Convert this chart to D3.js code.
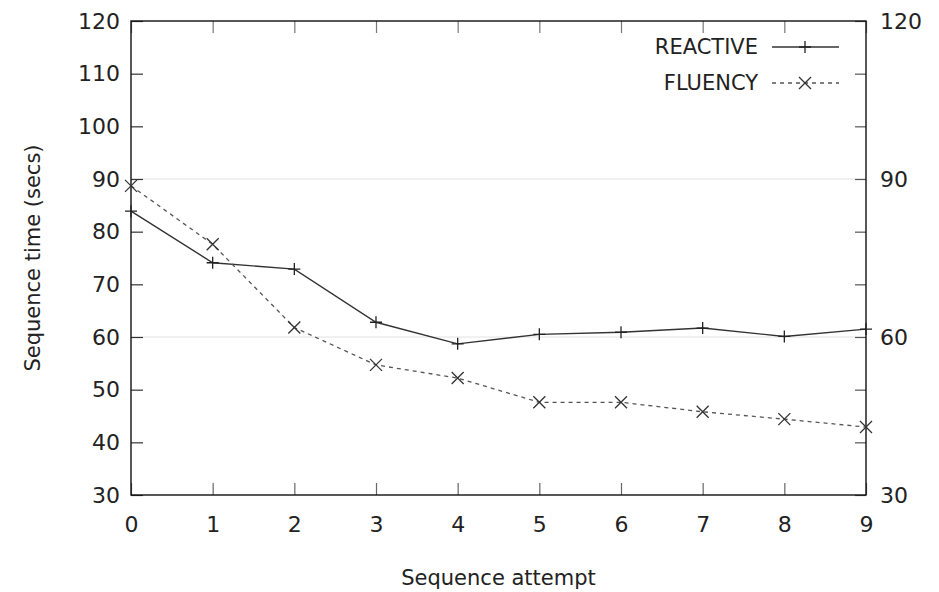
<!DOCTYPE html>
<html lang="en">
<head>
<meta charset="UTF-8" />
<title>Sequence time</title>
<style>
  body { margin: 0; background: #fff; }
  text { font-family: "DejaVu Sans", sans-serif; fill: #222; }
</style>
</head>
<body>
<script src="https://cdn.jsdelivr.net/npm/d3@7"></script>
<script>
// data
var attempts = [0, 1, 2, 3, 4, 5, 6, 7, 8, 9];
var reactive = [83.9, 74.1, 72.9, 62.8, 58.7, 60.5, 60.9, 61.7, 60.1, 61.5];
var fluency  = [88.7, 77.6, 61.8, 54.7, 52.2, 47.6, 47.6, 45.8, 44.4, 42.9];
var leftTicks = [30, 40, 50, 60, 70, 80, 90, 100, 110, 120];
var rightTicks = [30, 60, 90, 120];

var w = 939, h = 592;
var pLeft = 131, pRight = 866, pTop = 21, pBottom = 495;

var svg = d3.select("body").append("svg")
  .attr("width", w)
  .attr("height", h);

var xScale = d3.scaleLinear().domain([0, 9]).range([pLeft, pRight]);
var yScale = d3.scaleLinear().domain([30, 120]).range([pBottom, pTop]);

// light grid at right-axis majors
svg.selectAll("line.grid")
  .data(rightTicks.filter(function(d) { return d > 30 && d < 120; }))
  .enter().append("line")
  .attr("class", "grid")
  .attr("x1", pLeft).attr("x2", pRight)
  .attr("y1", function(d) { return yScale(d); })
  .attr("y2", function(d) { return yScale(d); })
  .attr("stroke", "#e2e2e2")
  .attr("stroke-width", 1);

// axes with inward ticks
var yLeft = d3.axisLeft(yScale).tickValues(leftTicks).tickSizeInner(-12).tickSizeOuter(0).tickPadding(11);
var yRight = d3.axisRight(yScale).tickValues(leftTicks).tickSizeInner(-11).tickSizeOuter(0)
  .tickFormat(function(d) { return rightTicks.indexOf(d) >= 0 ? d : ""; }).tickPadding(14);
var xBottom = d3.axisBottom(xScale).tickValues(attempts).tickSizeInner(-12).tickSizeOuter(0).tickPadding(21);
var xTop = d3.axisTop(xScale).tickValues(attempts).tickSizeInner(-12).tickSizeOuter(0).tickFormat("");

function style(g, col) {
  g.select(".domain").remove();
  g.selectAll(".tick line").attr("stroke", col).attr("stroke-width", 1.2);
  g.selectAll(".tick text").style("font-size", "22px").attr("fill", "#222");
}

svg.append("g").attr("transform", "translate(" + pLeft + ",0)").call(yLeft).call(style, "#333");
svg.append("g").attr("transform", "translate(" + pRight + ",0)").call(yRight).call(style, "#555");
svg.append("g").attr("transform", "translate(0," + pBottom + ")").call(xBottom).call(style, "#666");
svg.append("g").attr("transform", "translate(0," + pTop + ")").call(xTop).call(style, "#777");

// frame
svg.append("rect")
  .attr("x", pLeft).attr("y", pTop)
  .attr("width", pRight - pLeft).attr("height", pBottom - pTop)
  .attr("fill", "none")
  .attr("stroke", "#111")
  .attr("stroke-width", 1.4);

var line = d3.line()
  .x(function(d, i) { return xScale(attempts[i]); })
  .y(function(d) { return yScale(d); });

svg.append("path")
  .datum(reactive)
  .attr("d", line)
  .attr("fill", "none")
  .attr("stroke", "#333")
  .attr("stroke-width", 1.4);

svg.append("path")
  .datum(fluency)
  .attr("d", line)
  .attr("fill", "none")
  .attr("stroke", "#555")
  .attr("stroke-width", 1.3)
  .attr("stroke-dasharray", "4,4");

function plus(g, x, y) {
  g.append("path")
    .attr("d", "M" + (x - 6) + "," + y + "H" + (x + 6) + "M" + x + "," + (y - 6) + "V" + (y + 6))
    .attr("stroke", "#222").attr("stroke-width", 1.3);
}
function cross(g, x, y) {
  g.append("path")
    .attr("d", "M" + (x - 6) + "," + (y - 6) + "L" + (x + 6) + "," + (y + 6) + "M" + (x - 6) + "," + (y + 6) + "L" + (x + 6) + "," + (y - 6))
    .attr("stroke", "#333").attr("stroke-width", 1.3);
}

var marks = svg.append("g");
reactive.forEach(function(d, i) { plus(marks, xScale(attempts[i]), yScale(d)); });
fluency.forEach(function(d, i) { cross(marks, xScale(attempts[i]), yScale(d)); });

// legend
var leg = svg.append("g");
leg.append("text").attr("x", 758).attr("y", 47).attr("dy", "0.35em")
  .attr("text-anchor", "end").style("font-size", "21px").text("REACTIVE");
leg.append("line").attr("x1", 772).attr("x2", 839).attr("y1", 47).attr("y2", 47)
  .attr("stroke", "#333").attr("stroke-width", 1.4);
plus(leg, 805, 47);
leg.append("text").attr("x", 758).attr("y", 83).attr("dy", "0.35em")
  .attr("text-anchor", "end").style("font-size", "21px").text("FLUENCY");
leg.append("line").attr("x1", 772).attr("x2", 839).attr("y1", 83).attr("y2", 83)
  .attr("stroke", "#555").attr("stroke-width", 1.3).attr("stroke-dasharray", "4,4");
cross(leg, 805, 83);

// axis titles
svg.append("text")
  .attr("transform", "translate(33," + ((pTop + pBottom) / 2) + ") rotate(-90)")
  .attr("text-anchor", "middle").attr("dy", "0.35em")
  .style("font-size", "21px")
  .text("Sequence time (secs)");

svg.append("text")
  .attr("x", (pLeft + pRight) / 2).attr("y", 578)
  .attr("text-anchor", "middle").attr("dy", "0.35em")
  .style("font-size", "21px")
  .text("Sequence attempt");
</script>
</body>
</html>
